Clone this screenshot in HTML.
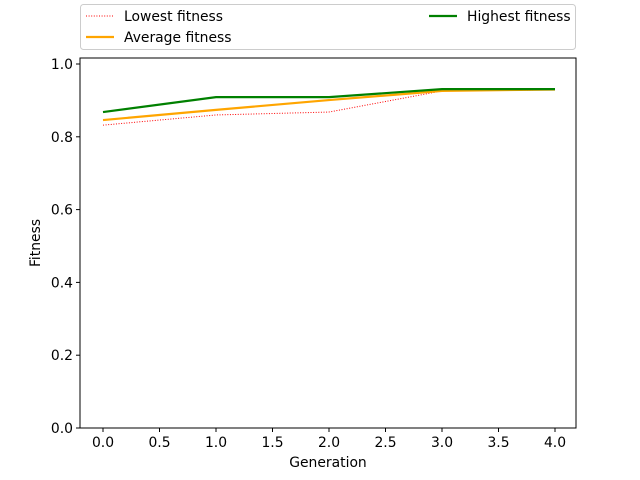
<!DOCTYPE html>
<html><head><meta charset="utf-8"><style>body{margin:0;background:#fff}svg{display:block;font-family:"DejaVu Sans","Liberation Sans",sans-serif}</style></head>
<body>
<svg id="chart" width="640" height="480"></svg>
<script>
const generations=[0,1,2,3,4];
const lowest=[0.832,0.860,0.868,0.926,0.929];
const average=[0.846,0.874,0.901,0.926,0.930];
const highest=[0.868,0.909,0.909,0.931,0.931];
const xTicks=[0,0.5,1,1.5,2,2.5,3,3.5,4];
const yTicks=[0,0.2,0.4,0.6,0.8,1.0];
const NS="http://www.w3.org/2000/svg";
const svg=document.getElementById('chart');
const L=80,R=576,T=58,B=428;
const FS=13.9;
const x=v=>103+(v-0)*(555-103)/4;
const y=v=>428-v*364;
function mk(t,a,p){const e=document.createElementNS(NS,t);for(const k in a)e.setAttribute(k,a[k]);(p||svg).appendChild(e);return e;}
const frame=mk('rect',{x:L,y:T,width:R-L,height:B-T,fill:'none',stroke:'#000','stroke-width':1});


xTicks.forEach(v=>{
 const l=mk('line',{x1:x(v),x2:x(v),y1:B,y2:B+4,stroke:'#000'});
 
 
 const t=mk('text',{x:x(v),y:B+19,'text-anchor':'middle','font-size':FS});t.textContent=v.toFixed(1);
 
 
});
yTicks.forEach(v=>{
 const l=mk('line',{x1:L-4,x2:L,y1:y(v),y2:y(v),stroke:'#000'});
 
 
 const t=mk('text',{x:L-7,y:y(v)+5,'text-anchor':'end','font-size':FS});t.textContent=v.toFixed(1);
 
 
});
const xt=mk('text',{x:328,y:467,'text-anchor':'middle','font-size':FS});xt.textContent='Generation';


const yt=mk('text',{x:0,y:0,'text-anchor':'middle','font-size':FS,transform:'translate(40,243) rotate(-90)'});yt.textContent='Fitness';


function series(d,st,name){
 const p=mk('polyline',Object.assign({points:generations.map((g,i)=>x(g)+','+y(d[i])).join(' '),fill:'none'},st));
 
 
}
series(lowest,{stroke:'red','stroke-width':1,'stroke-dasharray':'1,1.6'},'lowest-fitness-line');
series(average,{stroke:'orange','stroke-width':2.2},'average-fitness-line');
series(highest,{stroke:'green','stroke-width':2.2},'highest-fitness-line');
const lg=mk('rect',{x:80.5,y:4.5,width:495,height:45,rx:3,fill:'#fff',stroke:'#ccc'});


const items=[['Lowest fitness',86,16,{stroke:'red','stroke-width':1,'stroke-dasharray':'1,1.6'}],['Average fitness',86,37,{stroke:'orange','stroke-width':2.2}],['Highest fitness',429,16,{stroke:'green','stroke-width':2.2}]];
items.forEach(([n,lx,ly,st])=>{
 const l=mk('line',Object.assign({x1:lx,x2:lx+28,y1:ly,y2:ly},st));
 
 
 const t=mk('text',{x:lx+38,y:ly+5,'font-size':FS});t.textContent=n;
 
 
});
</script>
</body></html>
